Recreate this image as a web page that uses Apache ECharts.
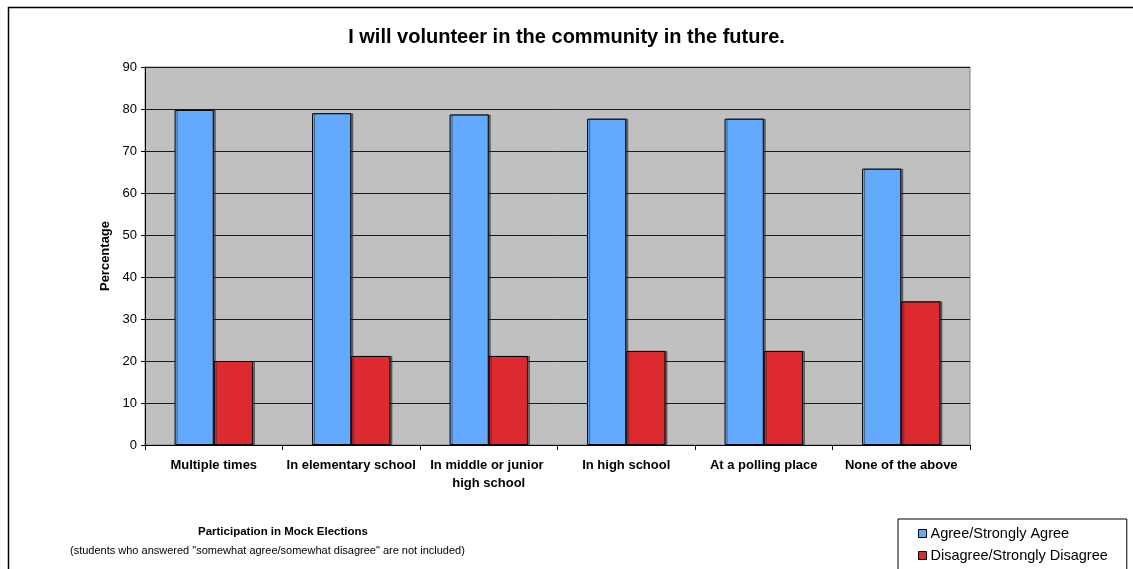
<!DOCTYPE html>
<html>
<head>
<meta charset="utf-8">
<script src="https://cdn.jsdelivr.net/npm/echarts@6/dist/echarts.min.js"></script>
<style>
  html, body { margin: 0; padding: 0; background: #fff; }
  #chart { width: 1133px; height: 569px; }
</style>
</head>
<body>
<div id="chart"></div>
<script>
// Survey results: "I will volunteer in the community in the future."
const categories = [
  'Multiple times',
  'In elementary school',
  'In middle or junior high school',
  'In high school',
  'At a polling place',
  'None of the above'
];
const agreeValues = [79.8, 79.0, 78.7, 77.7, 77.7, 65.8];
const disagreeValues = [20.0, 21.2, 21.2, 22.4, 22.4, 34.2];
const seriesNames = ['Agree/Strongly Agree', 'Disagree/Strongly Disagree'];
const yTicks = { min: 0, max: 90, interval: 10 };

const FONT = 'Liberation Sans, Arial, sans-serif';

const chart = echarts.init(document.getElementById('chart'), null, { renderer: 'canvas' });

const barStyle = (color) => ({
  color: color,
  borderColor: '#000',
  borderWidth: 1,
  shadowColor: 'rgba(40,40,40,0.55)',
  shadowOffsetX: 2,
  shadowOffsetY: 0,
  shadowBlur: 0
});

chart.setOption({
  animation: false,
  backgroundColor: '#fff',
  textStyle: { fontFamily: FONT },
  title: {
    text: 'I will volunteer in the community in the future.',
    left: 'center',
    top: 22,
    textStyle: { fontFamily: FONT, fontSize: 20, fontWeight: 'bold', color: '#000' }
  },
  grid: {
    left: 145, right: 163, top: 67, bottom: 124,
    show: true,
    backgroundColor: '#c0c0c0',
    borderColor: '#808080',
    borderWidth: 1
  },
  legend: {
    orient: 'vertical',
    left: 898,
    top: 519,
    height: 120,
    padding: [7, 19, 20, 20],
    itemGap: 7,
    itemWidth: 8,
    itemHeight: 8,
    icon: 'rect',
    backgroundColor: '#fff',
    borderColor: '#000',
    borderWidth: 1,
    itemStyle: { borderColor: '#000', borderWidth: 1, shadowBlur: 0, shadowOffsetX: 0 },
    textStyle: { fontFamily: FONT, fontSize: 14.5, color: '#000', padding: [0, 0, 0, -1] },
    data: seriesNames
  },
  xAxis: {
    type: 'category',
    data: categories,
    axisLine: { lineStyle: { color: '#000', width: 1 } },
    axisTick: { show: true, length: 5, lineStyle: { color: '#000' } },
    axisLabel: {
      interval: 0,
      margin: 11,
      width: 132,
      overflow: 'break',
      lineHeight: 18,
      fontFamily: FONT,
      fontSize: 13,
      fontWeight: 'bold',
      color: '#000'
    }
  },
  yAxis: {
    type: 'value',
    min: yTicks.min,
    max: yTicks.max,
    interval: yTicks.interval,
    name: 'Percentage',
    nameLocation: 'middle',
    nameGap: 26,
    nameTextStyle: { fontFamily: FONT, fontSize: 13, fontWeight: 'bold', color: '#000' },
    axisLine: { show: true, lineStyle: { color: '#000', width: 1 } },
    axisTick: { show: true, length: 4, lineStyle: { color: '#000' } },
    axisLabel: { margin: 8, fontFamily: FONT, fontSize: 13, color: '#000' },
    splitLine: { show: true, lineStyle: { color: '#1a1a1a', width: 1 } }
  },
  series: [
    {
      name: seriesNames[0],
      type: 'bar',
      data: agreeValues,
      barGap: '0%',
      barCategoryGap: '43%',
      itemStyle: barStyle('#63aafe')
    },
    {
      name: seriesNames[1],
      type: 'bar',
      data: disagreeValues,
      barGap: '0%',
      barCategoryGap: '43%',
      itemStyle: barStyle('#dd2a31')
    }
  ],
  graphic: [
    {
      type: 'rect',
      silent: true,
      z: 100,
      shape: { x: 8.5, y: 7.5, width: 1200, height: 700 },
      style: { fill: null, stroke: '#000', lineWidth: 1.5 }
    },
    {
      type: 'text',
      left: 198,
      top: 526,
      style: {
        text: 'Participation in Mock Elections',
        font: 'bold 11.5px ' + FONT,
        fill: '#000'
      }
    },
    {
      type: 'text',
      left: 70,
      top: 545,
      style: {
        text: '(students who answered "somewhat agree/somewhat disagree" are not included)',
        font: '11px ' + FONT,
        fill: '#000'
      }
    }
  ]
});
</script>
</body>
</html>
